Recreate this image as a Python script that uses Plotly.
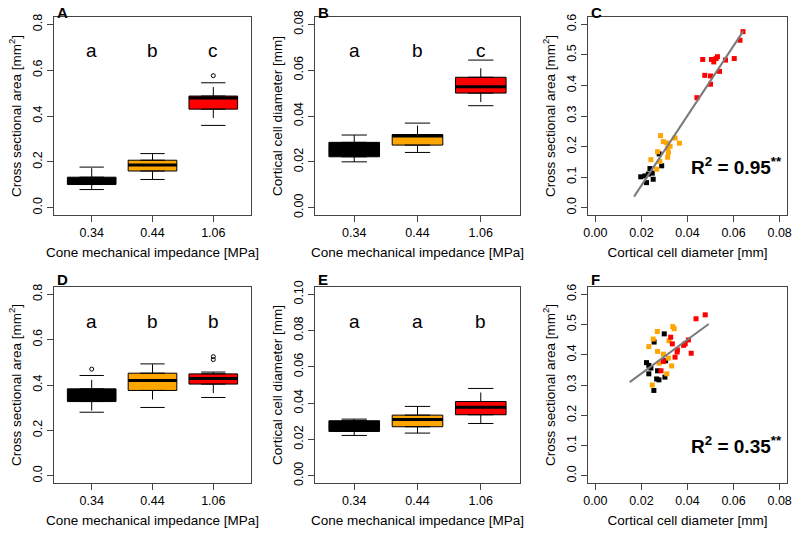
import plotly.graph_objects as go

# ---------------- data ----------------
impedance_labels = ["0.34", "0.44", "1.06"]
group_colors = ["#000000", "#FFA500", "#FF0000"]

# Panel A: cross sectional area [mm2]
A_lower = [0.079, 0.123, 0.359]
A_q1 = [0.101, 0.160, 0.430]
A_med = [0.115, 0.186, 0.479]
A_q3 = [0.133, 0.207, 0.487]
A_upper = [0.177, 0.236, 0.545]
A_outliers = [[], [], [0.576]]
A_letters = ["a", "b", "c"]

# Panel B: cortical cell diameter [mm]
B_lower = [0.0200, 0.0241, 0.0445]
B_q1 = [0.0222, 0.0273, 0.0500]
B_med = [0.0250, 0.0313, 0.0528]
B_q3 = [0.0285, 0.0319, 0.0569]
B_upper = [0.0317, 0.0369, 0.0644]
B_outliers = [[], [], []]
B_letters = ["a", "b", "c"]

# Panel D: cross sectional area [mm2]
D_lower = [0.280, 0.301, 0.345]
D_q1 = [0.327, 0.376, 0.404]
D_med = [0.350, 0.420, 0.429]
D_q3 = [0.383, 0.452, 0.449]
D_upper = [0.442, 0.493, 0.457]
D_outliers = [[0.470], [], [0.525, 0.512]]
D_letters = ["a", "b", "b"]

# Panel E: cortical cell diameter [mm]
E_lower = [0.0222, 0.0235, 0.0288]
E_q1 = [0.0244, 0.0270, 0.0336]
E_med = [0.0270, 0.0310, 0.0378]
E_q3 = [0.0303, 0.0334, 0.0409]
E_upper = [0.0312, 0.0382, 0.0481]
E_outliers = [[], [], []]
E_letters = ["a", "a", "b"]

# Panel C scatter
C_black_x = [0.0277, 0.0288, 0.0237, 0.0247, 0.0215, 0.0197, 0.0222, 0.0251, 0.0230]
C_black_y = [0.176, 0.137, 0.128, 0.113, 0.104, 0.101, 0.082, 0.093, 0.110]
C_orange_x = [0.0283, 0.0346, 0.0365, 0.0295, 0.0310, 0.0324, 0.0314, 0.0317, 0.0314, 0.0270, 0.0241, 0.0280, 0.0266]
C_orange_y = [0.236, 0.228, 0.211, 0.216, 0.212, 0.201, 0.194, 0.181, 0.165, 0.183, 0.157, 0.151, 0.126]
C_red_x = [0.0641, 0.0628, 0.0603, 0.0565, 0.0466, 0.0504, 0.0524, 0.0530, 0.0514, 0.0475, 0.0500, 0.0539, 0.0500, 0.0441]
C_red_y = [0.576, 0.548, 0.488, 0.483, 0.485, 0.485, 0.488, 0.494, 0.477, 0.433, 0.431, 0.446, 0.404, 0.360]
C_fit_x = [0.0168, 0.0642]
C_fit_slope = 11.43
C_fit_intercept = -0.156
C_r2 = "0.95"

# Panel F scatter
F_black_x = [0.0299, 0.0255, 0.0222, 0.0232, 0.0241, 0.0232, 0.0270, 0.0305, 0.0266, 0.0276, 0.0302, 0.0254]
F_black_y = [0.469, 0.442, 0.374, 0.365, 0.356, 0.337, 0.347, 0.380, 0.320, 0.317, 0.326, 0.282]
F_orange_x = [0.0336, 0.0342, 0.0269, 0.0232, 0.0251, 0.0270, 0.0320, 0.0295, 0.0317, 0.0331, 0.0310, 0.0247, 0.0277]
F_orange_y = [0.493, 0.486, 0.477, 0.427, 0.452, 0.411, 0.446, 0.402, 0.389, 0.363, 0.337, 0.300, 0.372]
F_red_x = [0.0477, 0.0437, 0.0327, 0.0334, 0.0404, 0.0390, 0.0383, 0.0356, 0.0355, 0.0346, 0.0416, 0.0295, 0.0285]
F_red_y = [0.532, 0.519, 0.458, 0.436, 0.449, 0.436, 0.431, 0.416, 0.409, 0.392, 0.405, 0.378, 0.347]
F_fit_x = [0.0149, 0.0492]
F_fit_slope = 5.60
F_fit_intercept = 0.226
F_r2 = "0.35"

# ---------------- figure ----------------
W, H = 793, 533
fig = go.Figure()

FONT = "Liberation Sans, Arial, sans-serif"
FRAME = "#444444"

def px_x(p):
    return p / W

def px_y(p):
    return 1 - p / H

panels = {
    "A": dict(xs=(54, 251), ys=(17, 215), n=1, lab_y=2),
    "B": dict(xs=(315, 520), ys=(17, 215), n=2, lab_y=2),
    "C": dict(xs=(588, 787), ys=(17, 215), n=3, lab_y=2),
    "D": dict(xs=(54, 251), ys=(287, 483), n=4, lab_y=269),
    "E": dict(xs=(315, 520), ys=(287, 483), n=5, lab_y=269),
    "F": dict(xs=(588, 787), ys=(287, 483), n=6, lab_y=269),
}

def axis_names(n):
    return ("x" if n == 1 else f"x{n}", "y" if n == 1 else f"y{n}")

def layout_names(n):
    return ("xaxis" if n == 1 else f"xaxis{n}", "yaxis" if n == 1 else f"yaxis{n}")

common_axis = dict(
    showline=True, linecolor=FRAME, linewidth=1, mirror=True, automargin=False,
    ticks="outside", ticklen=6, tickcolor=FRAME, showgrid=False, zeroline=False,
    tickfont=dict(family=FONT, size=12.5, color="#000000"),
)
TITLE_FONT = dict(family=FONT, size=13.5, color="#000000")

def set_axes(key, xrange, yrange, xtitle, ytitle, xtickvals, xticktext, ytickvals, yticktext):
    p = panels[key]
    xa, ya = layout_names(p["n"])
    xn, yn = axis_names(p["n"])
    fig.layout[xa] = dict(
        common_axis, domain=[px_x(p["xs"][0]), px_x(p["xs"][1])], anchor=yn,
        range=xrange, tickvals=xtickvals, ticktext=xticktext,
        title=dict(text=xtitle, font=TITLE_FONT, standoff=8),
    )
    fig.layout[ya] = dict(
        common_axis, domain=[px_y(p["ys"][1]), px_y(p["ys"][0])], anchor=xn,
        range=yrange, tickvals=ytickvals, ticktext=yticktext, tickangle=-90,
        title=dict(text=ytitle, font=TITLE_FONT, standoff=6),
    )
    fig.add_annotation(
        x=px_x(p["xs"][0] + 1), y=px_y(p["lab_y"]), xref="paper", yref="paper",
        text=f"<b>{key}</b>", showarrow=False, xanchor="left", yanchor="top",
        font=dict(family=FONT, size=15, color="#000000"),
    )

def boxpanel(key, lower, q1, med, q3, upper, outliers, letters, letter_y):
    n = panels[key]["n"]
    xn, yn = axis_names(n)
    for i in range(len(impedance_labels)):
        pos = i + 1
        # dashed whiskers
        fig.add_trace(go.Scatter(
            x=[pos, pos, None, pos, pos], y=[q3[i], upper[i], None, q1[i], lower[i]],
            mode="lines", line=dict(color="#000000", width=1, dash="dash"),
            xaxis=xn, yaxis=yn, showlegend=False, hoverinfo="skip"))
        # staples
        fig.add_trace(go.Scatter(
            x=[pos - 0.2, pos + 0.2, None, pos - 0.2, pos + 0.2],
            y=[upper[i], upper[i], None, lower[i], lower[i]],
            mode="lines", line=dict(color="#000000", width=1),
            xaxis=xn, yaxis=yn, showlegend=False, hoverinfo="skip"))
        # box
        fig.add_trace(go.Box(
            x=[pos], q1=[q1[i]], median=[med[i]], q3=[q3[i]],
            lowerfence=[q1[i]], upperfence=[q3[i]], width=0.8,
            fillcolor=group_colors[i], line=dict(color="#000000", width=1),
            xaxis=xn, yaxis=yn, showlegend=False, hoverinfo="skip"))
        # thick median
        fig.add_trace(go.Scatter(
            x=[pos - 0.4, pos + 0.4], y=[med[i], med[i]],
            mode="lines", line=dict(color="#000000", width=3),
            xaxis=xn, yaxis=yn, showlegend=False, hoverinfo="skip"))
        if outliers[i]:
            fig.add_trace(go.Scatter(
                x=[pos] * len(outliers[i]), y=outliers[i], mode="markers",
                marker=dict(symbol="circle-open", size=4, color="#000000", line=dict(width=1)),
                xaxis=xn, yaxis=yn, showlegend=False, hoverinfo="skip"))
        fig.add_annotation(
            x=pos, y=letter_y, xref=xn, yref=yn, text=letters[i], showarrow=False,
            font=dict(family=FONT, size=19, color="#000000"))

def scatterpanel(key, groups, fit_x, slope, intercept, r2, r2_y):
    n = panels[key]["n"]
    xn, yn = axis_names(n)
    for (gx, gy), col in zip(groups, group_colors):
        fig.add_trace(go.Scatter(
            x=gx, y=gy, mode="markers",
            marker=dict(symbol="square", size=5, color=col, line=dict(width=0)),
            xaxis=xn, yaxis=yn, showlegend=False))
    fig.add_trace(go.Scatter(
        x=fit_x, y=[slope * v + intercept for v in fit_x], mode="lines",
        line=dict(color="#7a7a7a", width=2), xaxis=xn, yaxis=yn, showlegend=False))
    fig.add_annotation(
        x=0.0613, y=r2_y, xref=xn, yref=yn,
        text=f"<b>R<sup>2</sup> = {r2}<sup>**</sup></b>", showarrow=False,
        font=dict(family=FONT, size=19, color="#000000"))

cat_vals = [1, 2, 3]
xt_imp = "Cone mechanical impedance [MPa]"
yt_area = "Cross sectional area [mm<sup>2</sup>]"
yt_diam = "Cortical cell diameter [mm]"

area_ticks = [0.0, 0.2, 0.4, 0.6, 0.8]
area_text = ["0.0", "0.2", "0.4", "0.6", "0.8"]
diamB_ticks = [0.0, 0.02, 0.04, 0.06, 0.08]
diamB_text = ["0.00", "0.02", "0.04", "0.06", "0.08"]
diamE_ticks = [0.0, 0.02, 0.04, 0.06, 0.08, 0.10]
diamE_text = ["0.00", "0.02", "0.04", "0.06", "0.08", "0.10"]
sc_y_ticks = [0.0, 0.1, 0.2, 0.3, 0.4, 0.5, 0.6]
sc_y_text = ["0.0", "0.1", "0.2", "0.3", "0.4", "0.5", "0.6"]
sc_x_ticks = [0.0, 0.02, 0.04, 0.06, 0.08]
sc_x_text = ["0.00", "0.02", "0.04", "0.06", "0.08"]

set_axes("A", [0.38, 3.62], [-0.032, 0.832], xt_imp, yt_area, cat_vals, impedance_labels, area_ticks, area_text)
set_axes("B", [0.38, 3.62], [-0.0032, 0.0832], xt_imp, yt_diam, cat_vals, impedance_labels, diamB_ticks, diamB_text)
set_axes("C", [-0.0032, 0.0832], [-0.024, 0.624], "Cortical cell diameter [mm]", yt_area, sc_x_ticks, sc_x_text, sc_y_ticks, sc_y_text)
set_axes("D", [0.38, 3.62], [-0.032, 0.832], xt_imp, yt_area, cat_vals, impedance_labels, area_ticks, area_text)
set_axes("E", [0.38, 3.62], [-0.004, 0.104], xt_imp, yt_diam, cat_vals, impedance_labels, diamE_ticks, diamE_text)
set_axes("F", [-0.0032, 0.0832], [-0.024, 0.624], "Cortical cell diameter [mm]", yt_area, sc_x_ticks, sc_x_text, sc_y_ticks, sc_y_text)

boxpanel("A", A_lower, A_q1, A_med, A_q3, A_upper, A_outliers, A_letters, 0.687)
boxpanel("B", B_lower, B_q1, B_med, B_q3, B_upper, B_outliers, B_letters, 0.0688)
boxpanel("D", D_lower, D_q1, D_med, D_q3, D_upper, D_outliers, D_letters, 0.68)
boxpanel("E", E_lower, E_q1, E_med, E_q3, E_upper, E_outliers, E_letters, 0.085)

scatterpanel("C", [(C_black_x, C_black_y), (C_orange_x, C_orange_y), (C_red_x, C_red_y)],
             C_fit_x, C_fit_slope, C_fit_intercept, C_r2, 0.136)
scatterpanel("F", [(F_black_x, F_black_y), (F_orange_x, F_orange_y), (F_red_x, F_red_y)],
             F_fit_x, F_fit_slope, F_fit_intercept, F_r2, 0.10)

fig.update_layout(
    width=W, height=H, margin=dict(l=0, r=0, t=0, b=0),
    paper_bgcolor="white", plot_bgcolor="white", showlegend=False,
    boxmode="overlay", font=dict(family=FONT, size=12, color="#000000"),
)

fig.write_html(
    "out.html",
    config={"displayModeBar": False},
    post_script="document.body.style.margin='0';document.body.style.overflow='hidden';",
)
